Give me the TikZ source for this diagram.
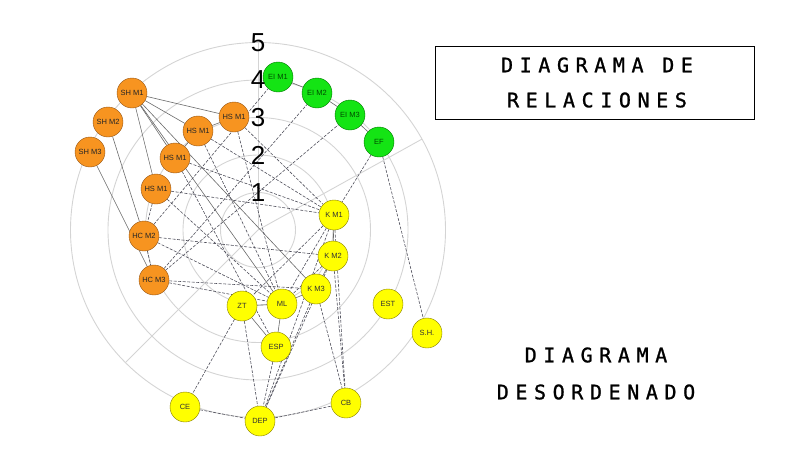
\documentclass[tikz,border=0pt]{standalone}
\usepackage{fontspec}
\setmainfont{Liberation Sans}
\newfontfamily\titlefont[LetterSpace=33,FakeBold=1.2]{DejaVu Sans Mono}
\usetikzlibrary{backgrounds,calc}

\definecolor{orangefill}{RGB}{247,148,32}
\definecolor{orangeline}{RGB}{150,85,20}
\definecolor{greenfill}{RGB}{20,228,20}
\definecolor{greenline}{RGB}{0,120,0}
\definecolor{yellowfill}{RGB}{255,255,0}
\definecolor{yellowline}{RGB}{135,125,0}
\definecolor{ringgray}{RGB}{212,212,212}
\definecolor{linkgray}{RGB}{105,105,105}
\definecolor{dashgray}{RGB}{80,80,92}

\begin{document}
\begin{tikzpicture}[orangestate/.style={circle, draw=orangeline, fill=orangefill, minimum size=30pt, inner sep=0pt, text=black!85, font=\fontsize{7.5}{8}\selectfont}, greenstate/.style={orangestate, draw=greenline, fill=greenfill, text=green!30!black}, yellowstate/.style={orangestate, draw=yellowline, fill=yellowfill, text=black!80}, ring/.style={draw=ringgray, line width=0.9pt}, radarnum/.style={font=\fontsize{26}{26}\selectfont, inner sep=0pt}, link/.style={draw=linkgray, line width=0.6pt}, dlink/.style={draw=dashgray, line width=0.6pt, dash pattern=on 3pt off 1.5pt}, titletext/.style={font=\titlefont\fontsize{20}{20}\selectfont, inner sep=0pt}]
  \useasboundingbox (0pt, 0pt) rectangle (800pt, -450pt);
  \coordinate (c) at (258.0pt, -230.0pt);

  \draw (132.0pt, -93.0pt)node[orangestate](0){SH M1};
  \draw (108.0pt, -122.0pt)node[orangestate](1){SH M2};
  \draw (90.0pt, -152.0pt)node[orangestate](2){SH M3};
  \draw (234.0pt, -117.0pt)node[orangestate](3){HS M1};
  \draw (198.0pt, -131.0pt)node[orangestate](4){HS M1};
  \draw (175.0pt, -158.0pt)node[orangestate](5){HS M1};
  \draw (156.0pt, -189.0pt)node[orangestate](6){HS M1};
  \draw (144.0pt, -236.0pt)node[orangestate](7){HC M2};
  \draw (154.0pt, -280.0pt)node[orangestate](8){HC M3};

  \draw (278.0pt, -77.0pt)node[greenstate](9){EI M1};
  \draw (317.0pt, -93.0pt)node[greenstate](10){EI M2};
  \draw (350.0pt, -115.0pt)node[greenstate](11){EI M3};
  \draw (379.0pt, -142.0pt)node[greenstate](12){EF};

  \draw (334.0pt, -215.0pt)node[yellowstate](13){K M1};
  \draw (333.0pt, -256.0pt)node[yellowstate](14){K M2};
  \draw (316.0pt, -289.0pt)node[yellowstate](15){K M3};
  \draw (388.0pt, -304.0pt)node[yellowstate](16){EST};
  \draw (427.0pt, -333.0pt)node[yellowstate](17){S.H.};
  \draw (242.0pt, -306.0pt)node[yellowstate](18){ZT};
  \draw (282.0pt, -304.0pt)node[yellowstate](19){ML};
  \draw (276.0pt, -347.0pt)node[yellowstate](20){ESP};
  \draw (185.0pt, -407.0pt)node[yellowstate](21){CE};
  \draw (260.0pt, -421.0pt)node[yellowstate](22){DEP};
  \draw (346.0pt, -403.0pt)node[yellowstate](23){CB};

  \foreach \k in {1,...,5}
    \node[radarnum] (n\k) at ($(c)+(0pt, 37.5pt*\k)$) {\k};

  \draw (435.0pt, -46.0pt) rectangle (754.0pt, -119.0pt);
  \draw (597.0pt, -65.0pt)node[titletext](t1){DIAGRAMA DE};
  \draw (597.0pt, -100.0pt)node[titletext](t2){RELACIONES};
  \draw (596.0pt, -355.0pt)node[titletext](t3){DIAGRAMA};
  \draw (596.0pt, -392.0pt)node[titletext](t4){DESORDENADO};

  \begin{scope}[on background layer]
    \foreach \k in {1,...,5}
      \draw[ring] (c) circle [radius=37.5pt*\k];
    \foreach \a in {90,29,225}
      \draw[ring] (c) -- ++(\a:187.5pt);

    \path[link] (0) edge (3) (0) edge (4) (0) edge (5) (0) edge (6) (0) edge (19) (0) edge (15);
    \path[link] (1) edge (7) (2) edge (8) (3) edge (4) (4) edge (5);
    \path[link] (9) edge (10) (10) edge (11) (11) edge (12);
    \path[link] (13) edge (14) (14) edge (15) (15) edge (19);
    \path[link] (18) edge (19) (18) edge (20) (19) edge (20);

    \path[dlink] (6) edge (7) (7) edge (8);
    \path[dlink] (3) edge (13) (4) edge (13) (5) edge (13) (6) edge (13);
    \path[dlink] (3) edge (19) (4) edge (19) (5) edge (20) (6) edge (19);
    \path[dlink] (7) edge (9) (7) edge (14) (7) edge (19);
    \path[dlink] (8) edge (10) (8) edge (11) (8) edge (15) (8) edge (19);
    \path[dlink] (12) edge (13) (12) edge (17);
    \path[dlink] (13) edge (18) (13) edge (19) (14) edge (19);
    \path[dlink] (13) edge (23) (14) edge (23) (15) edge (23);
    \path[dlink] (13) edge (22) (14) edge (22) (15) edge (22);
    \path[dlink] (18) edge (21) (18) edge (22) (20) edge (22);
    \path[dlink] (21) edge (22) (22) edge (23);
  \end{scope}
\end{tikzpicture}
\end{document}
